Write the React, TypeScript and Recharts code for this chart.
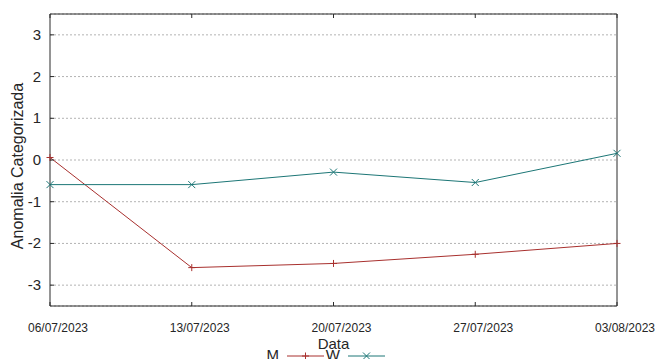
import React from 'react';
import {
  LineChart,
  Line,
  XAxis,
  YAxis,
  CartesianGrid,
  Legend
} from 'recharts';

// values
const dates = ['06/07/2023', '13/07/2023', '20/07/2023', '27/07/2023', '03/08/2023'];
const mValues = [0.06, -2.58, -2.48, -2.26, -2.0];
const wValues = [-0.59, -0.59, -0.29, -0.54, 0.16];
const yTicks = [-3, -2, -1, 0, 1, 2, 3];

const FONT = '"Liberation Sans", Arial, sans-serif';
const M_COLOR = '#a8302e';
const W_COLOR = '#1c7676';
const BORDER = '#2b2b2b';

const data = dates.map((date, i) => ({ date, M: mValues[i], W: wValues[i] }));

const markerFor: Record<string, 'plus' | 'cross'> = { M: 'plus', W: 'cross' };

const Marker = ({ cx, cy, color, kind }: { cx: number; cy: number; color: string; kind: 'plus' | 'cross' }) => {
  const s = 3.5;
  if (kind === 'plus') {
    return (
      <g stroke={color} strokeWidth={1}>
        <line x1={cx - s} y1={cy} x2={cx + s} y2={cy} />
        <line x1={cx} y1={cy - s} x2={cx} y2={cy + s} />
      </g>
    );
  }
  return (
    <g stroke={color} strokeWidth={1}>
      <line x1={cx - s} y1={cy - s} x2={cx + s} y2={cy + s} />
      <line x1={cx - s} y1={cy + s} x2={cx + s} y2={cy - s} />
    </g>
  );
};

const makeDot = (color: string, kind: 'plus' | 'cross') => (props: any) => {
  const { cx, cy, index } = props;
  if (cx == null || cy == null) return <g key={`d-${index}`} />;
  return <Marker key={`d-${index}`} cx={cx} cy={cy} color={color} kind={kind} />;
};

// left axis: number labels + short inward tick
const LeftTick = (props: any) => {
  const { x, y, payload } = props;
  return (
    <g>
      <line x1={x} y1={y} x2={x + 4} y2={y} stroke={BORDER} />
      <text x={x - 9} y={y} dy={5} textAnchor="end" fontSize={15} fontFamily={FONT} fill="#262626">
        {payload.value}
      </text>
    </g>
  );
};

const RightTick = (props: any) => {
  const { x, y } = props;
  return <line x1={x - 4} y1={y} x2={x} y2={y} stroke={BORDER} />;
};

const BottomTick = (props: any) => {
  const { x, y, payload } = props;
  return (
    <g>
      <line x1={x} y1={y} x2={x} y2={y - 4} stroke={BORDER} />
      <text x={x + 8} y={y + 26} textAnchor="middle" fontSize={12} fontFamily={FONT} fill="#262626">
        {payload.value}
      </text>
    </g>
  );
};

const TopTick = (props: any) => {
  const { x, y } = props;
  return <line x1={x} y1={y} x2={x} y2={y + 4} stroke={BORDER} />;
};

const KeyContent = (props: any) => {
  const items = props.payload || [];
  return (
    <svg width={140} height={24} style={{ display: 'block', overflow: 'visible' }}>
      {items.map((item: any, i: number) => {
        const x0 = i * 61;
        const key = item.dataKey as string;
        return (
          <g key={key}>
            <text x={x0 + 14} y={16} textAnchor="end" fontSize={15} fontFamily={FONT} fill="#262626">
              {item.value}
            </text>
            <line x1={x0 + 22} y1={12} x2={x0 + 59} y2={12} stroke={item.color} />
            <Marker cx={x0 + 40.5} cy={12} color={item.color} kind={markerFor[key]} />
          </g>
        );
      })}
    </svg>
  );
};

const App: React.FC = () => {
  return (
    <div style={{ position: 'absolute', left: 0, top: 0, background: '#fff' }}>
      <LineChart width={657} height={359} data={data} margin={{ top: 0, right: 0, bottom: 0, left: 0 }}>
        <CartesianGrid vertical={false} stroke="#b3b3b3" strokeDasharray="2 2" />
        <XAxis
          dataKey="date"
          height={53}
          axisLine={{ stroke: BORDER }}
          tickLine={false}
          tickSize={0}
          tickMargin={0}
          tick={<BottomTick />}
          interval={0}
          label={{
            content: (p: any) => {
              const vb = p.viewBox;
              return (
                <text x={vb.x + vb.width / 2} y={vb.y + 43} textAnchor="middle" fontSize={15} fontFamily={FONT} fill="#262626">
                  Data
                </text>
              );
            }
          }}
        />
        <XAxis
          xAxisId="top"
          dataKey="date"
          orientation="top"
          height={14}
          axisLine={{ stroke: BORDER }}
          tickLine={false}
          tickSize={0}
          tickMargin={0}
          tick={<TopTick />}
          interval={0}
        />
        <YAxis
          domain={[-3.5, 3.5]}
          ticks={yTicks}
          width={50}
          axisLine={{ stroke: BORDER }}
          tickLine={false}
          tickSize={0}
          tickMargin={0}
          tick={<LeftTick />}
          interval={0}
          label={{
            content: (p: any) => {
              const vb = p.viewBox;
              const cx = vb.x + 18;
              const cy = vb.y + vb.height / 2 + 6;
              return (
                <text
                  x={cx}
                  y={cy}
                  transform={`rotate(-90 ${cx} ${cy})`}
                  textAnchor="middle"
                  dy={5}
                  fontSize={16}
                  fontFamily={FONT}
                  fill="#262626"
                >
                  Anomalia Categorizada
                </text>
              );
            }
          }}
        />
        <YAxis
          yAxisId="right"
          orientation="right"
          domain={[-3.5, 3.5]}
          ticks={yTicks}
          width={40}
          axisLine={{ stroke: BORDER }}
          tickLine={false}
          tickSize={0}
          tickMargin={0}
          tick={<RightTick />}
          interval={0}
        />
        <Legend
          verticalAlign="middle"
          align="center"
          layout="horizontal"
          content={<KeyContent />}
          wrapperStyle={{ position: 'absolute', left: 265, top: 344, width: 140, height: 24 }}
        />
        <Line
          type="linear"
          dataKey="M"
          name="M"
          stroke={M_COLOR}
          strokeWidth={1}
          dot={makeDot(M_COLOR, 'plus')}
          activeDot={false}
          isAnimationActive={false}
        />
        <Line
          type="linear"
          dataKey="W"
          name="W"
          stroke={W_COLOR}
          strokeWidth={1}
          dot={makeDot(W_COLOR, 'cross')}
          activeDot={false}
          isAnimationActive={false}
        />
      </LineChart>
    </div>
  );
};

export default App;
